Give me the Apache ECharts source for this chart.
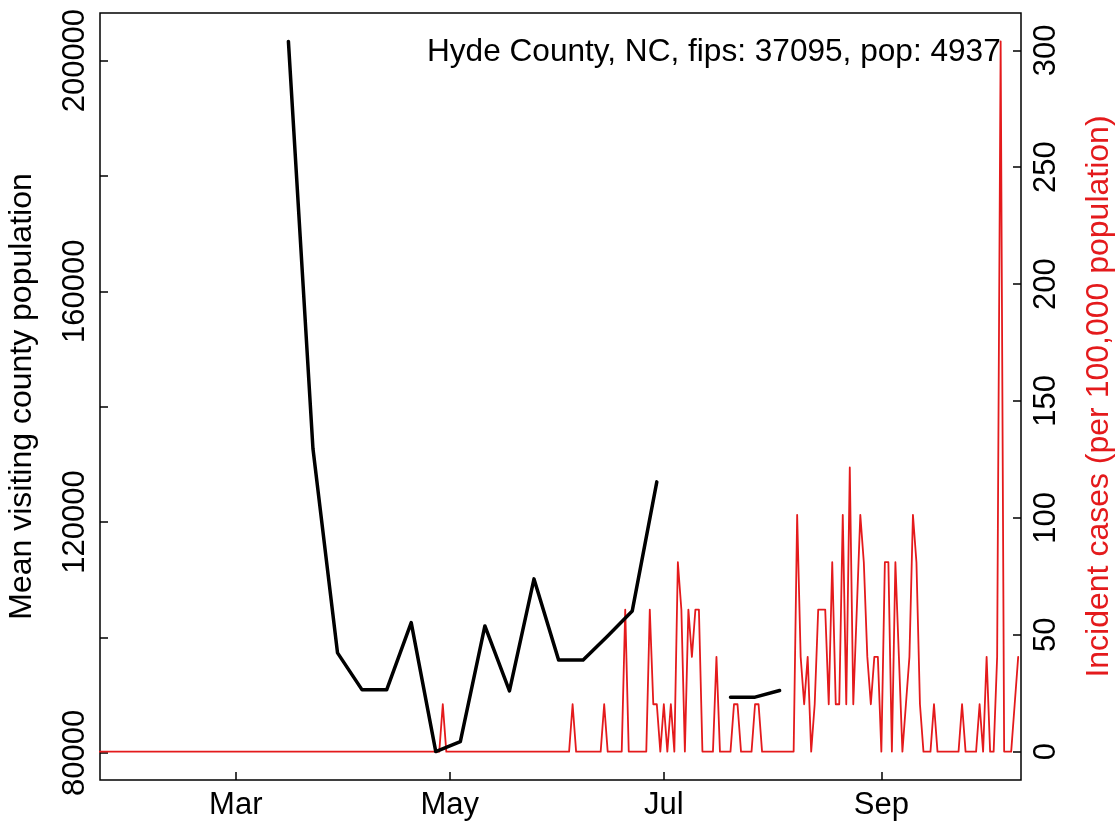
<!DOCTYPE html>
<html>
<head>
<meta charset="utf-8">
<script src="https://cdn.jsdelivr.net/npm/echarts@6/dist/echarts.min.js"></script>
<style>
  html, body { margin: 0; padding: 0; background: #fff; }
  #chart { width: 1119px; height: 826px; }
</style>
</head>
<body>
<div id="chart"></div>
<script>
// ---------------- DATA ----------------
const titleText = 'Hyde County, NC, fips: 37095, pop: 4937';
const leftAxisName = 'Mean visiting county population';
const rightAxisName = 'Incident cases (per 100,000 population)';

// Weekly mean visiting county population (black line); null = missing week
const blackDates = ['2020-03-16','2020-03-23','2020-03-30','2020-04-06','2020-04-13','2020-04-20','2020-04-27',
  '2020-05-04','2020-05-11','2020-05-18','2020-05-25','2020-06-01','2020-06-08','2020-06-15','2020-06-22',
  '2020-06-29','2020-07-06','2020-07-13','2020-07-20','2020-07-27','2020-08-03'];
const blackValues = [203330, 132700, 97320, 90910, 90910, 102570, 80210,
  81940, 102000, 90730, 110150, 96110, 96110, 100270, 104600,
  126970, null, null, 89650, 89650, 90800];

// Daily incident cases per 100,000 (red line), one array per month
const redStartDate = '2020-01-22';
const redJan = [0,0,0,0,0,0,0,0,0,0];
const redFeb = [0,0,0,0,0,0,0,0,0,0, 0,0,0,0,0,0,0,0,0,0, 0,0,0,0,0,0,0,0,0];
const redMar = [0,0,0,0,0,0,0,0,0,0, 0,0,0,0,0,0,0,0,0,0, 0,0,0,0,0,0,0,0,0,0, 0];
const redApr = [0,0,0,0,0,0,0,0,0,0, 0,0,0,0,0,0,0,0,0,0, 0,0,0,0,0,0,0,0,20.26,0];
const redMay = [0,0,0,0,0,0,0,0,0,0, 0,0,0,0,0,0,0,0,0,0, 0,0,0,0,0,0,0,0,0,0, 0];
const redJun = [0,0,0,0,20.26,0,0,0,0,0, 0,0,0,20.26,0,0,0,0,0,60.77, 0,0,0,0,0,0,60.77,20.26,20.26,0];
const redJul = [20.26,0,20.26,0,81.02,60.77,0,60.77,40.51,60.77, 60.77,0,0,0,0,40.51,0,0,0,0,
  20.26,20.26,0,0,0,0,20.26,20.26,0,0, 0];
const redAug = [0,0,0,0,0,0,0,101.28,40.51,20.26, 40.51,0,20.26,60.77,60.77,60.77,20.26,81.02,20.26,20.26,
  101.28,20.26,121.53,20.26,60.77,101.28,81.02,40.51,20.26,40.51, 40.51];
const redSep = [0,81.02,81.02,0,81.02,40.51,0,20.26,40.51,101.28, 81.02,20.26,0,0,0,20.26,0,0,0,0,
  0,0,0,20.26,0,0,0,0,20.26,0];
const redOct = [40.51,0,0,40.51,303.83,0,0,0,20.26,40.51];

// Axes
const xRangeDates = ['2020-01-22T07:12:00Z', '2020-10-10T19:12:00Z'];
const xTickDates = ['2020-03-01','2020-05-01','2020-07-01','2020-09-01'];
const xTickLabels = ['Mar','May','Jul','Sep'];
const leftRange = [75285, 208255];
const leftTicks = [80000, 100000, 120000, 140000, 160000, 180000, 200000];
const leftLabels = [80000, 120000, 160000, 200000];
const rightRange = [-12.15, 315.95];
const rightTicks = [0, 50, 100, 150, 200, 250, 300];

// ---------------- BUILD ----------------
const DAY = 86400000;
const FONT = '"Liberation Sans", Arial, Helvetica, sans-serif';
const RED = '#e41a1c';

const redValues = [].concat(redJan, redFeb, redMar, redApr, redMay, redJun, redJul, redAug, redSep, redOct);
const redStart = Date.parse(redStartDate);
const redData = redValues.map((v, i) => [redStart + i * DAY, v]);
const blackData = blackDates.map((d, i) => [Date.parse(d), blackValues[i]]);
const xTicks = xTickDates.map(d => Date.parse(d));

const chart = echarts.init(document.getElementById('chart'), null, { renderer: 'canvas' });
chart.setOption({
  animation: false,
  backgroundColor: '#ffffff',
  grid: {
    left: 100, top: 13, width: 921, height: 767,
    show: true, borderColor: '#000', borderWidth: 1.5, backgroundColor: 'transparent',
    containLabel: false, outerBoundsMode: 'none'
  },
  xAxis: {
    type: 'value',
    scale: true,
    min: Date.parse(xRangeDates[0]),
    max: Date.parse(xRangeDates[1]),
    axisLine: { show: false, onZero: false },
    splitLine: { show: false },
    axisTick: { show: true, inside: true, length: 8, lineStyle: { color: '#000', width: 1.5 }, customValues: xTicks },
    axisLabel: {
      customValues: xTicks,
      color: '#000', fontSize: 31, fontFamily: FONT, margin: 10,
      formatter: function (v) { const i = xTicks.indexOf(+v); return i >= 0 ? xTickLabels[i] : ''; }
    }
  },
  yAxis: [
    {
      type: 'value', position: 'left',
      min: leftRange[0], max: leftRange[1],
      name: leftAxisName, nameLocation: 'middle', nameRotate: 90, nameGap: 62,
      nameTextStyle: { color: '#000', fontSize: 32, fontFamily: FONT },
      axisLine: { show: false, onZero: false },
      splitLine: { show: false },
      axisTick: { show: true, inside: true, length: 8, lineStyle: { color: '#000', width: 1.5 }, customValues: leftTicks },
      axisLabel: { customValues: leftLabels, rotate: 90, color: '#000', fontSize: 31, fontFamily: FONT, margin: 9,
        formatter: v => String(v) }
    },
    {
      type: 'value', position: 'right',
      min: rightRange[0], max: rightRange[1],
      name: rightAxisName, nameLocation: 'middle', nameRotate: 90, nameGap: 62,
      nameTextStyle: { color: RED, fontSize: 32, fontFamily: FONT },
      axisLine: { show: false, onZero: false },
      splitLine: { show: false },
      axisTick: { show: true, inside: true, length: 8, lineStyle: { color: '#000', width: 1.5 }, customValues: rightTicks },
      axisLabel: { customValues: rightTicks, rotate: 90, color: '#000', fontSize: 31, fontFamily: FONT, margin: 10,
        formatter: v => String(v) }
    }
  ],
  graphic: [{
    type: 'text', x: 427, y: 52, z: 0,
    style: { text: titleText, fill: '#000', font: '31.6px ' + FONT, align: 'left', verticalAlign: 'middle' }
  }],
  series: [
    {
      name: 'cases', type: 'line', yAxisIndex: 1, data: redData,
      showSymbol: false, symbol: 'none', clip: true,
      lineStyle: { color: RED, width: 1.8, join: 'round', cap: 'round' },
      z: 2
    },
    {
      name: 'visitors', type: 'line', yAxisIndex: 0, data: blackData,
      showSymbol: false, symbol: 'none', connectNulls: false, clip: true,
      lineStyle: { color: '#000', width: 3.5, join: 'round', cap: 'round' },
      z: 3
    }
  ]
});
</script>
</body>
</html>
